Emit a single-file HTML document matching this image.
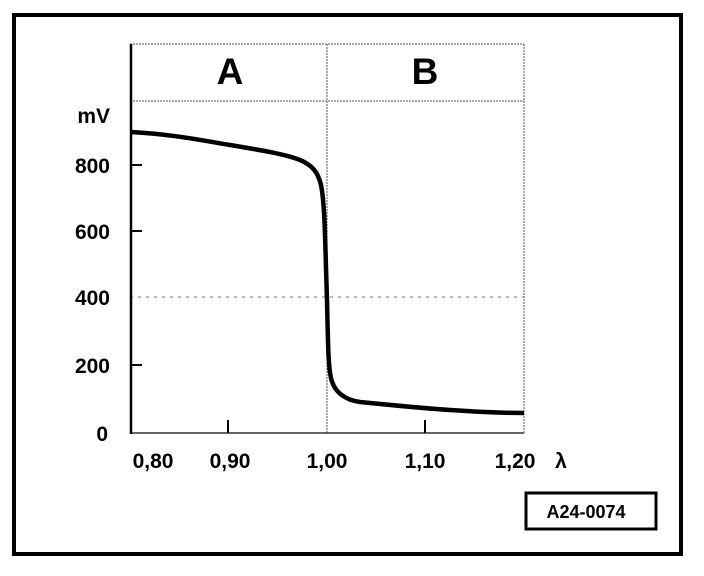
<!DOCTYPE html>
<html><head><meta charset="utf-8"><style>
html,body{margin:0;padding:0;background:#fff;}
svg{display:block;}
text{font-family:"Liberation Sans",sans-serif;font-weight:bold;fill:#000;}
</style></head><body>
<svg width="704" height="576" viewBox="0 0 704 576">
<rect x="14" y="15" width="667" height="539" fill="none" stroke="#000" stroke-width="4"/>
<line x1="130" y1="44" x2="524" y2="44" stroke="#555" stroke-width="1" stroke-dasharray="2,1"/>
<line x1="130" y1="101" x2="524" y2="101" stroke="#555" stroke-width="1" stroke-dasharray="2,1"/>
<line x1="524" y1="44" x2="524" y2="433" stroke="#555" stroke-width="1" stroke-dasharray="2,1"/>
<line x1="327" y1="44" x2="327" y2="433" stroke="#555" stroke-width="1" stroke-dasharray="2,1"/>
<line x1="130" y1="297" x2="524" y2="297" stroke="#777" stroke-width="1" stroke-dasharray="3,5"/>
<line x1="130" y1="433" x2="524" y2="433" stroke="#333" stroke-width="1.5"/>
<line x1="131" y1="44" x2="131" y2="434" stroke="#000" stroke-width="2.5"/>
<line x1="131" y1="165" x2="142" y2="165" stroke="#000" stroke-width="2"/>
<line x1="131" y1="231" x2="142" y2="231" stroke="#000" stroke-width="2"/>
<line x1="131" y1="365" x2="142" y2="365" stroke="#000" stroke-width="2"/>
<line x1="228" y1="420" x2="228" y2="433" stroke="#000" stroke-width="2"/>
<line x1="425" y1="420" x2="425" y2="433" stroke="#000" stroke-width="2"/>
<path d="M131,132 C170,134 200,140 230,145 S285,154 300,160 C312,165 318,172 321,185 C325,205 325,240 327,300 C328,340 328,365 331,378 C334,392 345,400 360,402 C390,405 420,408 450,410 S500,413 524,413" fill="none" stroke="#000" stroke-width="4.5"/>
<text x="230" y="84" font-size="37" text-anchor="middle">A</text>
<text x="425" y="84" font-size="37" text-anchor="middle">B</text>
<g font-size="21" text-anchor="end">
<text x="110" y="123">mV</text>
<text x="110" y="173">800</text>
<text x="110" y="239">600</text>
<text x="110" y="305">400</text>
<text x="110" y="373">200</text>
<text x="108" y="441">0</text>
</g>
<g font-size="21" text-anchor="middle">
<text x="153" y="468">0,80</text>
<text x="230" y="468">0,90</text>
<text x="327" y="468">1,00</text>
<text x="425" y="468">1,10</text>
<text x="515" y="468">1,20</text>
<text x="561" y="468">λ</text>
</g>
<rect x="526" y="493" width="130" height="36" fill="none" stroke="#000" stroke-width="3"/>
<text x="586" y="518" font-size="18" text-anchor="middle">A24-0074</text>
</svg>
</body></html>
